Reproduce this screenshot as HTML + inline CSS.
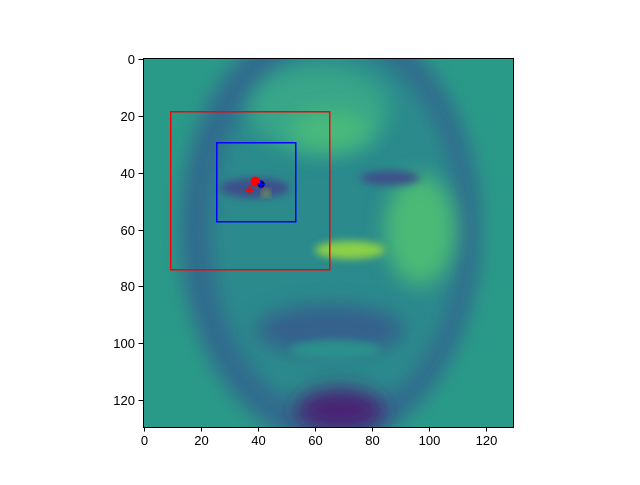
<!DOCTYPE html>
<html><head><meta charset="utf-8"><style>
body{margin:0;background:#fff;font-family:"Liberation Sans",sans-serif}
svg text{font-family:"Liberation Sans",sans-serif;font-size:13px;fill:#000}
</style></head><body>
<svg id="c" width="640" height="480">
<defs>
<filter id="b8" x="-50%" y="-50%" width="200%" height="200%"><feGaussianBlur stdDeviation="10"/></filter>
<filter id="b4" x="-50%" y="-50%" width="200%" height="200%"><feGaussianBlur stdDeviation="4"/></filter>
<clipPath id="cl"><rect x="143" y="58" width="370" height="369"/></clipPath>
</defs>
<g clip-path="url(#cl)">
<rect x="143" y="58" width="370" height="369" fill="#2a9a88"/>
<ellipse cx="330" cy="230" rx="150" ry="215" fill="#32698e" filter="url(#b8)"/>
<ellipse cx="335" cy="230" rx="125" ry="185" fill="#2a8a8c" filter="url(#b8)"/>
<ellipse cx="320" cy="110" rx="70" ry="45" fill="#37a688" filter="url(#b8)"/>
<ellipse cx="330" cy="130" rx="40" ry="20" fill="#4ab97a" filter="url(#b8)"/>
<ellipse cx="420" cy="230" rx="35" ry="55" fill="#4cba76" filter="url(#b8)"/>
<ellipse cx="350" cy="250" rx="35" ry="9" fill="#8cd146" filter="url(#b4)"/>
<ellipse cx="255" cy="188" rx="35" ry="10" fill="#3e4f8a" filter="url(#b4)"/>
<ellipse cx="390" cy="178" rx="30" ry="7" fill="#3e4f8a" filter="url(#b4)"/>
<ellipse cx="330" cy="330" rx="75" ry="25" fill="#35608d" filter="url(#b8)"/>
<ellipse cx="335" cy="350" rx="45" ry="10" fill="#29918b" filter="url(#b4)"/>
<ellipse cx="340" cy="410" rx="45" ry="22" fill="#482475" filter="url(#b8)"/>
<ellipse cx="266" cy="193" rx="3" ry="3" fill="#d8e219" filter="url(#b4)"/>
</g>
<rect x="143.5" y="58.5" width="370" height="369" fill="none" stroke="#000" stroke-width="1"/>
<g id="ov"></g>
</svg>
<script>
const xTicks=[0,20,40,60,80,100,120];
const yTicks=[0,20,40,60,80,100,120];
const rectsX=[9,25];const rectsY=[18,29];const rectsW=[56,28];const rectsH=[56,28];
const rectColors=['#ff0000','#0000ff'];
const dotsX=[41,39];const dotsY=[44,43];const dotColors=['#000000','#ff0000'];
const plusX=[37,41];const plusY=[46,44];const plusColors=['#ff0000','#0000ff'];
const ns='http://www.w3.org/2000/svg';
const X=v=>143+(v+0.5)*370/130, Y=v=>58+(v+0.5)*369/130;
const R=v=>Math.round(v)+0.5;
const svg=document.getElementById('c'), ov=document.getElementById('ov');
function mk(t,a,p){const e=document.createElementNS(ns,t);for(const k in a)e.setAttribute(k,a[k]);(p||svg).appendChild(e);return e;}
xTicks.forEach(t=>{const x=R(X(t));
const l=mk('line',{x1:x,x2:x,y1:427,y2:431.5,stroke:'#000'});


const s=mk('text',{x:x,y:445,'text-anchor':'middle'});s.textContent=t;

});
yTicks.forEach(t=>{const y=R(Y(t));
const l=mk('line',{x1:138.5,x2:143,y1:y,y2:y,stroke:'#000'});


const s=mk('text',{x:135,y:y+4.5,'text-anchor':'end'});s.textContent=t;

});
rectsX.forEach((v,i)=>{const x0=Math.round(X(v)),y0=Math.round(Y(rectsY[i])),x1=Math.round(X(v+rectsW[i])),y1=Math.round(Y(rectsY[i]+rectsH[i]));
const g=mk('g',{},ov);


[[x0,y0,x1-x0+1.5,1.5],[x0,y1,x1-x0+1.5,1.5],[x0,y0,1.5,y1-y0+1.5],[x1,y0,1.5,y1-y0+1.5]].forEach(a=>{
mk('rect',{x:a[0],y:a[1],width:a[2],height:a[3],fill:rectColors[i]},g);});});
dotsX.forEach((v,i)=>{const c=mk('circle',{cx:X(v),cy:Y(dotsY[i]),r:i?5:3.5,fill:dotColors[i]},ov);

});
plusX.forEach((v,i)=>{const x=X(v),y=Y(plusY[i]);
const p=mk('path',{d:`M${x-4},${y}H${x+4}M${x},${y-4}V${y+4}`,stroke:plusColors[i],'stroke-width':2},ov);

});
</script>
</body></html>
